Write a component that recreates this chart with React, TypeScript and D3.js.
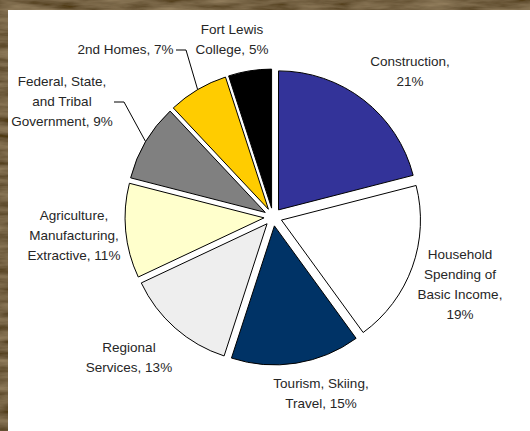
import React from "react";
import * as d3 from "d3";

const categories = [
  "Construction",
  "Household Spending of Basic Income",
  "Tourism, Skiing, Travel",
  "Regional Services",
  "Agriculture, Manufacturing, Extractive",
  "Federal, State, and Tribal Government",
  "2nd Homes",
  "Fort Lewis College",
];
const values = [21, 19, 15, 13, 11, 9, 7, 5];
const colors = ["#333399", "#ffffff", "#003366", "#eeeeee", "#ffffcc", "#808080", "#ffcc00", "#000000"];
const labelLines = [
  ["Construction,", "21%"],
  ["Household", "Spending of", "Basic Income,", "19%"],
  ["Tourism, Skiing,", "Travel, 15%"],
  ["Regional", "Services, 13%"],
  ["Agriculture,", "Manufacturing,", "Extractive, 11%"],
  ["Federal, State,", "and Tribal", "Government, 9%"],
  ["2nd Homes, 7%"],
  ["Fort Lewis", "College, 5%"],
];

// layout (label anchors: centre x, first-line centre y)
const labelPos: [number, number][] = [
  [410, 61], [460, 254], [321, 383], [129, 347], [74, 215], [62, 81], [125.5, 49], [232, 29],
];
const leaderIdx = [5, 6];
const leaderStartX = [114, 176];

const W = 530, H = 431;
const cx = 273, cy = 217, R = 139, EXPLODE = 9;
const LINE_H = 20;

export default function App() {
  const pie = d3.pie<number>().sort(null).value((d) => d)(values);
  const arc = d3.arc<d3.PieArcDatum<number>>().innerRadius(0).outerRadius(R);

  const slices = pie.map((p, i) => {
    const mid = (p.startAngle + p.endAngle) / 2;
    const ox = EXPLODE * Math.sin(mid);
    const oy = -EXPLODE * Math.cos(mid);
    return { p, i, mid, ox, oy };
  });

  return (
    <svg width={W} height={H} style={{ position: "absolute", left: 0, top: 0, display: "block" }}>
      <defs>
        <filter id="rock" x="0" y="0" width="100%" height="100%">
          <feTurbulence type="fractalNoise" baseFrequency="0.02 0.12" numOctaves={4} seed={3} result="n" />
          <feColorMatrix
            in="n"
            type="matrix"
            values="0.5 0 0 0 -0.02  0.4 0 0 0 -0.04  0.25 0 0 0 -0.05  0 0 0 0 1"
          />
        </filter>
      </defs>
      <rect x={0} y={0} width={W} height={H} fill="#3a2c1a" />
      <rect x={0} y={0} width={W} height={H} filter="url(#rock)" opacity={0.8} />
      <rect x={8} y={10} width={W - 8} height={H - 10} fill="#ffffff" />

      <g transform={`translate(${cx},${cy})`}>
        {slices.map(({ p, i, ox, oy }) => (
          <path
            key={categories[i]}
            d={arc(p) || ""}
            transform={`translate(${ox},${oy})`}
            fill={colors[i]}
            stroke="#000"
            strokeWidth={1}
            strokeLinejoin="miter"
          />
        ))}
      </g>

      {leaderIdx.map((i, k) => {
        const s = slices[i];
        const ex = cx + s.ox + R * Math.sin(s.mid);
        const ey = cy + s.oy - R * Math.cos(s.mid);
        const lines = labelLines[i];
        const ly = labelPos[i][1] + ((lines.length - 1) * LINE_H) / 2 + 1;
        const startX = leaderStartX[k];
        const elbowX = startX + 10;
        return (
          <polyline
            key={"leader" + i}
            points={`${startX},${ly} ${elbowX},${ly} ${ex},${ey}`}
            fill="none"
            stroke="#000"
            strokeWidth={1}
          />
        );
      })}

      {labelLines.map((lines, i) => (
        <text
          key={"lbl" + i}
          fontFamily="'Liberation Sans', Arial, sans-serif"
          fontSize={13.5}
          fill="#262626"
          textAnchor="middle"
        >
          {lines.map((l, j) => (
            <tspan key={j} x={labelPos[i][0]} y={labelPos[i][1] + j * LINE_H + 5}>
              {l}
            </tspan>
          ))}
        </text>
      ))}
    </svg>
  );
}
